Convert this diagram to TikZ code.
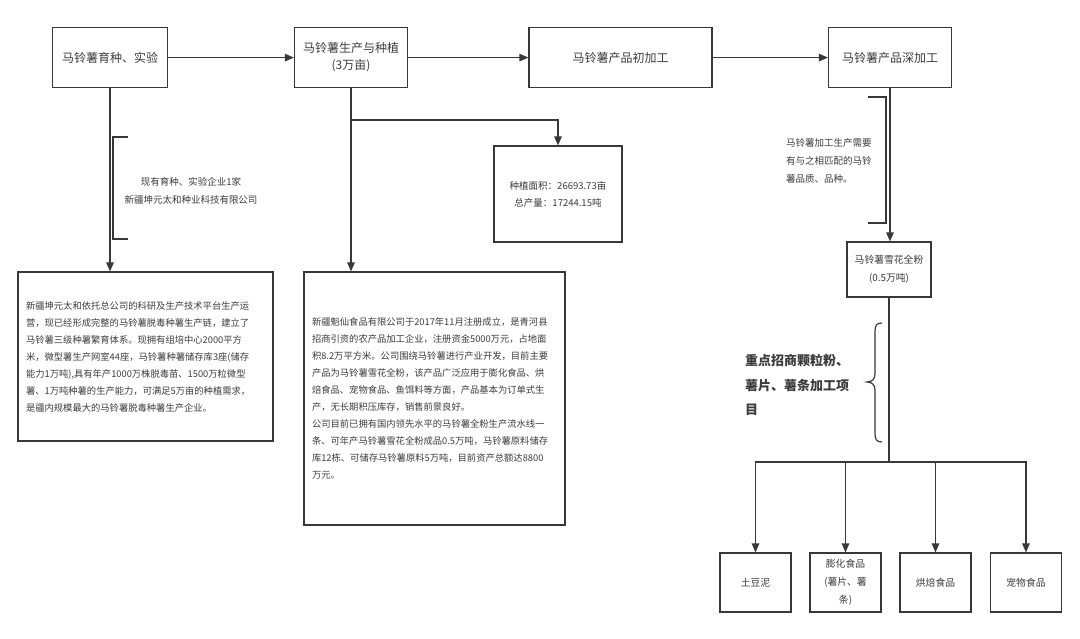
\documentclass[tikz,border=0pt]{standalone}
\usepackage{fontspec}
\setmainfont{Noto Sans CJK SC}
\usetikzlibrary{arrows.meta}
\definecolor{linec}{HTML}{383838}
\definecolor{txtc}{HTML}{3C3C3C}
\tikzset{
  box/.style={draw=linec, line width=1.2pt, fill=white, inner sep=0pt, align=center, text=txtc},
  headbox/.style={box, font=\fontsize{12pt}{17pt}\selectfont},
  smallbox/.style={box, font=\fontsize{9.8pt}{18pt}\selectfont},
  textbox/.style={box, font=\fontsize{9.3pt}{17pt}\selectfont, align=left},
  note/.style={inner sep=0pt, text=txtc, font=\fontsize{9.5pt}{18pt}\selectfont},
  conn/.style={draw=linec, line width=1.2pt},
  arr/.style={conn, -{Triangle[length=9pt,width=7.5pt]}},
}
\begin{document}
\begin{tikzpicture}[x=1pt,y=-1pt]
\useasboundingbox[fill=white] (0,0) rectangle (1080,638);

% top row
\node[headbox, minimum width=115pt, minimum height=60pt] (A) at (110,57.6) {马铃薯育种、实验};
\node[headbox, minimum width=113pt, minimum height=60pt] (B) at (351,57.6) {马铃薯生产与种植\\(3万亩)};
\node[headbox, minimum width=183pt, minimum height=60pt] (C) at (620.5,57.6) {马铃薯产品初加工};
\node[headbox, minimum width=123pt, minimum height=60pt] (D) at (890,57.6) {马铃薯产品深加工};

\draw[arr] (A) -- (B);
\draw[arr] (B) -- (C);
\draw[arr] (C) -- (D);

% left column
\node[textbox, minimum width=255pt, minimum height=169pt, text width=239pt] (E) at (145.5,356.5) {新疆坤元太和依托总公司的科研及生产技术平台生产运\\营，现已经形成完整的马铃薯脱毒种薯生产链，建立了\\马铃薯三级种薯繁育体系。现拥有组培中心2000平方\\米，微型薯生产网室44座，马铃薯种薯储存库3座(储存\\能力1万吨),具有年产1000万株脱毒苗、1500万粒微型\\薯、1万吨种薯的生产能力，可满足5万亩的种植需求，\\是疆内规模最大的马铃薯脱毒种薯生产企业。};
\draw[arr] (A.south) -- (A.south |- E.north);
\draw[conn] (128,137) -- (113,137) -- (113,239) -- (128,239);
\node[note, align=center] (Enote) at (191,191) {现有育种、实验企业1家\\新疆坤元太和种业科技有限公司};

% middle column
\node[textbox, minimum width=261pt, minimum height=253pt, text width=245pt] (F) at (434.5,398.5) {新疆魁仙食品有限公司于2017年11月注册成立，是青河县\\招商引资的农产品加工企业，注册资金5000万元，占地面\\积8.2万平方米。公司围绕马铃薯进行产业开发，目前主要\\产品为马铃薯雪花全粉，该产品广泛应用于膨化食品、烘\\焙食品、宠物食品、鱼饵料等方面，产品基本为订单式生\\产，无长期积压库存，销售前景良好。\\公司目前已拥有国内领先水平的马铃薯全粉生产流水线一\\条、可年产马铃薯雪花全粉成品0.5万吨，马铃薯原料储存\\库12栋、可储存马铃薯原料5万吨，目前资产总额达8800\\万元。};
\draw[arr] (B.south) -- (B.south |- F.north);

\node[box, font=\fontsize{9.5pt}{17pt}\selectfont, minimum width=128pt, minimum height=96pt] (G) at (558,194) {种植面积：26693.73亩\\总产量：17244.15吨};
\coordinate (br) at (351,120);
\draw[arr] (br) -| (G.north);

% right column
\node[smallbox, minimum width=84pt, minimum height=55pt] (H) at (889,269.5) {马铃薯雪花全粉\\(0.5万吨)};
\draw[arr] (D.south) -- (D.south |- H.north);
\draw[conn] (868,97) -- (886,97) -- (886,223) -- (868,223);
\node[note, anchor=west, align=left] (Hnote) at (786,161) {马铃薯加工生产需要\\有与之相匹配的马铃\\薯品质、品种。};

\draw[conn] (882,323) .. controls (876,323) and (875,326) .. (875,332) -- (875,374) .. controls (875,379) and (872,382) .. (867,382) .. controls (872,382) and (875,385) .. (875,390) -- (875,433) .. controls (875,439) and (876,442) .. (882,442);
\node[inner sep=0pt, anchor=west, align=left, text=txtc, font=\fontsize{13pt}{24.5pt}\selectfont\bfseries] (K) at (745,385) {重点招商颗粒粉、\\薯片、薯条加工项\\目};

% bottom row
\node[smallbox, minimum width=71pt, minimum height=59pt] (P1) at (755.5,582.5) {土豆泥};
\node[smallbox, minimum width=71pt, minimum height=59pt, text width=50pt] (P2) at (845.5,582.5) {膨化食品\\(薯片、薯\\条)};
\node[smallbox, minimum width=71pt, minimum height=59pt] (P3) at (935.5,582.5) {烘焙食品};
\node[smallbox, minimum width=71pt, minimum height=59pt] (P4) at (1026,582.5) {宠物食品};

\coordinate (hub) at (889,462);
\draw[conn] (H.south) -- (hub);
\draw[arr] (hub) -| (P1.north);
\draw[arr] (hub) -| (P2.north);
\draw[arr] (hub) -| (P3.north);
\draw[arr] (hub) -| (P4.north);
\end{tikzpicture}
\end{document}
